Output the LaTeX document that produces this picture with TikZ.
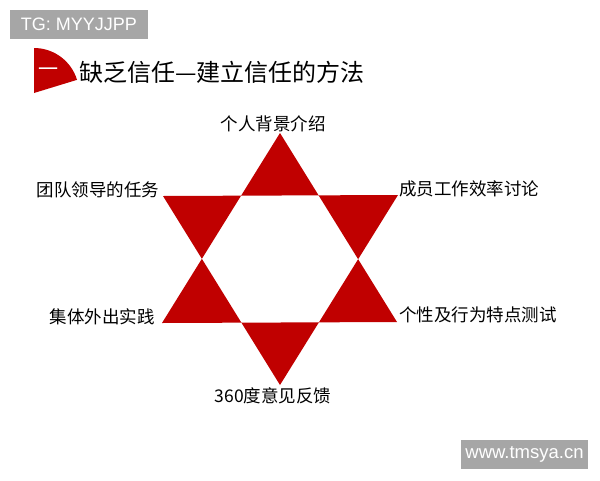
\documentclass[tikz,border=0pt]{standalone}
\usepackage{fontspec}
\setmainfont{Noto Sans CJK SC}
\newfontfamily\arialfont{Liberation Sans}
\definecolor{starred}{HTML}{C00000}
\definecolor{tagred}{HTML}{C00000}
\definecolor{taggray}{HTML}{A6A6A6}
\begin{document}
\begin{tikzpicture}[x=1pt,y=-1pt,
  lbl/.style={inner sep=0pt,font=\fontsize{17.5}{20}\selectfont},
  tagbox/.style={fill=taggray,text=white,inner sep=0pt,font=\arialfont\fontsize{18}{20}\selectfont}]
\useasboundingbox (0,0) rectangle (600,480);
\fill[white] (0,0) rectangle (600,480);
% watermark boxes
\node[tagbox,minimum width=138,minimum height=29] (tg) at (79,24.5) {TG: MYYJJPP};
\node[tagbox,minimum width=127,minimum height=29,font=\arialfont\fontsize{18.5}{20}\selectfont] (www) at (524.5,454.5) {www.tmsya.cn};
% title marker
\fill[tagred] (34,93) -- (34,48) arc[start angle=-90,end angle=-17,radius=45] -- cycle;
\node[inner sep=0pt,text=white,font=\fontsize{20}{22}\selectfont] (one) at (48.5,72) {一};
\node[inner sep=0pt,anchor=west,font=\fontsize{24}{26}\selectfont] (title) at (79,72) {缺乏信任—建立信任的方法};
% star
\coordinate (A) at (280,133);
\coordinate (B) at (162,323);
\coordinate (C) at (397,322);
\coordinate (D) at (163,196);
\coordinate (E) at (398,195);
\coordinate (F) at (280,385);
\fill[starred,even odd rule] (A) -- (B) -- (C) -- cycle (D) -- (E) -- (F) -- cycle;
% labels
\node[lbl] (l1) at (273,124) {个人背景介绍};
\node[lbl] (l2) at (98,190) {团队领导的任务};
\node[lbl] (l3) at (469,189) {成员工作效率讨论};
\node[lbl] (l4) at (102,317) {集体外出实践};
\node[lbl] (l5) at (478,315) {个性及行为特点测试};
\node[lbl] (l6) at (273,396) {360度意见反馈};
\end{tikzpicture}
\end{document}
